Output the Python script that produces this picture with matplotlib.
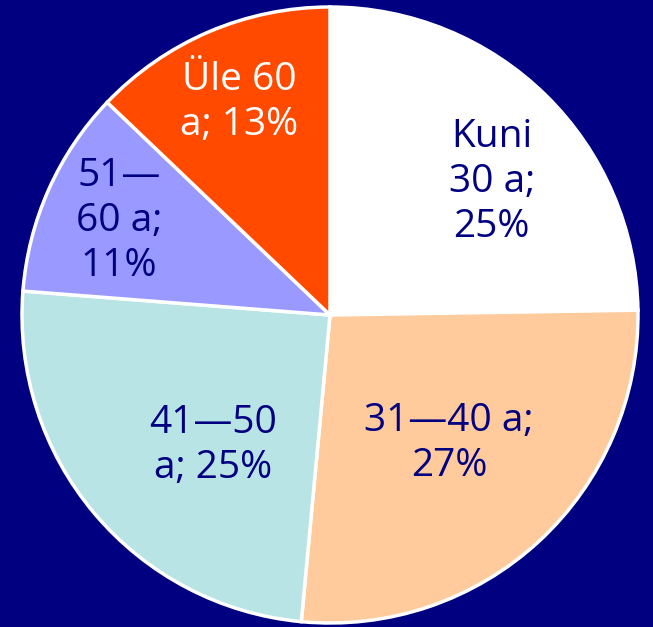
import numpy as np
import matplotlib.pyplot as plt

labels = ["Kuni\n30 a;\n25%", "31\u201440 a;\n27%", "41\u201450\na; 25%", "51\u2014\n60 a;\n11%", "\u00dcle 60\na; 13%"]
shares = [25, 27, 25, 11, 13]
colors = ["#ffffff", "#ffca9c", "#b9e4e6", "#9a99ff", "#ff4a00"]
text_colors = ["#000080", "#000080", "#000080", "#000080", "#ffffff"]
label_dist = [0.68, 0.57, 0.57, 0.75, 0.75]
label_shift = [-6, 0, 8, 0, 0]  # degrees

bg = "#000080"
fig = plt.figure(figsize=(6.53, 6.27), dpi=100, facecolor=bg)
ax = fig.add_axes([22 / 653, 4 / 627, 616 / 653, 616 / 627])
ax.set_facecolor(bg)

wedges, _ = ax.pie(shares, colors=colors, startangle=90, counterclock=False,
                   radius=1.0, wedgeprops=dict(edgecolor="white", linewidth=2.5))

for w, lab, tc, d, s in zip(wedges, labels, text_colors, label_dist, label_shift):
    ang = np.deg2rad((w.theta1 + w.theta2) / 2 + s)
    ax.text(d * np.cos(ang), d * np.sin(ang), lab, ha="center", va="center",
            color=tc, fontsize=28, family="Open Sans", linespacing=1.25)

ax.set_xlim(-1, 1)
ax.set_ylim(-1, 1)
ax.set_aspect("equal")
ax.axis("off")

fig.savefig("out.png", dpi=100, facecolor=bg)
